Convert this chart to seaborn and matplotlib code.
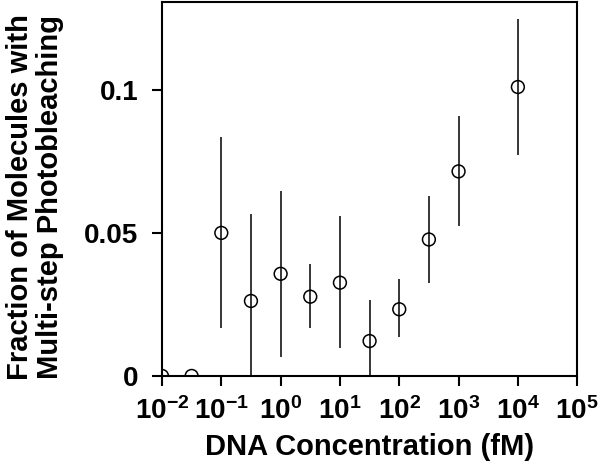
import matplotlib
matplotlib.use("Agg")
import matplotlib.pyplot as plt
import seaborn as sns
import numpy as np
import pandas as pd

# concentration (fM), fraction, error bar low/high
conc = [0.01, 0.0316, 0.1, 0.316, 1, 3.16, 10, 31.6, 100, 316, 1000, 10000]
fraction = [0.0, 0.0, 0.0500, 0.0262, 0.0357, 0.0277, 0.0326, 0.0122, 0.0233, 0.0477, 0.0715, 0.1010]
err_low = [0.0, 0.0, 0.0166, 0.0, 0.0065, 0.0166, 0.0096, 0.0, 0.0135, 0.0326, 0.0524, 0.0773]
err_high = [0.0, 0.0, 0.0834, 0.0567, 0.0647, 0.0390, 0.0559, 0.0267, 0.0340, 0.0630, 0.0908, 0.1246]

xtick_vals = [1e-2, 1e-1, 1e0, 1e1, 1e2, 1e3, 1e4, 1e5]
xtick_labels = [r"$\mathbf{10^{-2}}$", r"$\mathbf{10^{-1}}$", r"$\mathbf{10^{0}}$", r"$\mathbf{10^{1}}$",
                r"$\mathbf{10^{2}}$", r"$\mathbf{10^{3}}$", r"$\mathbf{10^{4}}$", r"$\mathbf{10^{5}}$"]
ytick_vals = [0, 0.05, 0.1]
ytick_labels = ["0", "0.05", "0.1"]

df = pd.DataFrame({"conc": conc, "fraction": fraction, "lo": err_low, "hi": err_high})

sns.set_style("ticks")
plt.rcParams["font.family"] = ["Liberation Sans", "DejaVu Sans"]
plt.rcParams["font.weight"] = "bold"
plt.rcParams["mathtext.fontset"] = "custom"
plt.rcParams["mathtext.bf"] = "Liberation Sans:bold"
plt.rcParams["mathtext.rm"] = "Liberation Sans:bold"
for key in ["text.color", "axes.labelcolor", "xtick.color", "ytick.color", "axes.edgecolor"]:
    plt.rcParams[key] = "black"

fig = plt.figure(figsize=(6, 4.67), dpi=100)
ax = fig.add_axes([0.27, 0.195, 0.692, 0.80])

ax.vlines(df["conc"], df["lo"], df["hi"], color="black", linewidth=1.1)
sns.scatterplot(data=df, x="conc", y="fraction", ax=ax, marker="o", s=85,
                facecolor="none", edgecolor="black", linewidth=1.1, zorder=3)

ax.set_xscale("log")
ax.set_xlim(1e-2, 1e5)
ax.set_ylim(0, 0.1306)
ax.set_xticks(xtick_vals)
ax.set_xticklabels(xtick_labels)
ax.minorticks_off()
ax.set_yticks(ytick_vals)
ax.set_yticklabels(ytick_labels)
ax.tick_params(axis="both", labelsize=20, width=1.5, length=7, direction="out")
ax.tick_params(axis="x", pad=8)
ax.tick_params(axis="y", pad=10)
for s in ax.spines.values():
    s.set_linewidth(1.5)

ax.set_xlabel("DNA Concentration (fM)", fontsize=21, fontweight="bold", labelpad=6)
ax.set_ylabel("Fraction of Molecules with\nMulti-step Photobleaching", fontsize=21,
              fontweight="bold", linespacing=1.1)
ax.yaxis.set_label_coords(-0.236, 0.48)

fig.savefig("out.png", dpi=100)
